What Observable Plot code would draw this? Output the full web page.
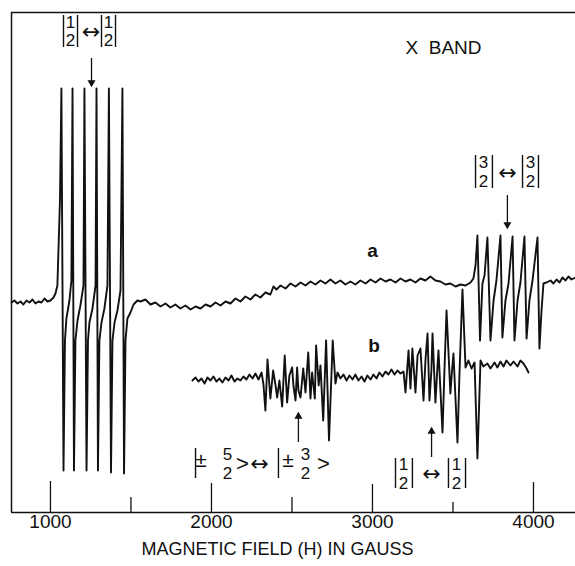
<!DOCTYPE html>
<html><head><meta charset="utf-8">
<script src="https://cdn.jsdelivr.net/npm/d3@7"></script>
<script src="https://cdn.jsdelivr.net/npm/@observablehq/plot@0.6"></script>
<style>body{margin:0;background:#fff}</style>
</head><body><div id="chart"></div>
<script>
// Trace a (field in gauss, signal in arbitrary units)
const aField = [758,776,795,814,832,851,870,888,907,925,944,963,981,1000,1019,1031,1043,
 1059,1068,1081,1090,1099,1118,1130,
 1137,1146,1155,1168,1186,1205,
 1211,1224,1233,1242,1261,1280,
 1286,1295,1304,1317,1335,1354,
 1363,1376,1385,1398,1416,1435,
 1447,1457,1466,1478,1497,1516,1540,
 1559,1590,1621,1652,1683,1714,1745,1776,1807,1838,1870,1901,1932,1963,1994,2025,2056,2087,2118,2149,2180,2211,2242,2273,2304,2335,2366,2385,2404,2429,2460,2491,2522,2553,2584,2615,2646,2677,2708,2739,2770,2801,2832,2863,2894,2925,2957,2988,3019,3050,3081,3112,3143,3174,3205,3236,3267,3298,3329,3360,3391,3422,3453,3484,3516,3547,3578,3609,3627,
 3640,3652,3668,3683,3696,3714,3733,3752,3770,3795,3807,3826,3845,3870,3882,3901,3919,3944,3957,3975,3994,4025,4037,4050,4062,4081,4106,4124,4143,4162,4180,4199,4217,4236,4261];
const aSignal = [210,212,209,211,208,212,210,213,209,211,210,214,211,212,215,219,227,
 312,424,42,172,194,212,232,
 424,42,172,192,207,227,
 424,42,172,190,204,227,
 424,42,172,190,204,227,
 424,40,172,190,202,222,
 424,39,172,194,200,208,212,
 211,213,208,210,206,209,205,208,204,207,203,206,204,208,206,210,207,211,209,214,211,216,213,218,215,220,218,226,223,227,224,229,226,230,227,231,228,232,229,233,229,232,228,231,228,232,229,233,230,234,231,233,230,234,231,233,230,234,232,236,232,231,228,229,226,228,227,230,234,
 247,277,172,229,237,275,172,212,232,277,175,212,229,276,172,212,230,276,174,212,232,275,164,202,229,230,232,229,233,230,235,232,236,233,235];

// Trace b
const bField = [1882,1901,1919,1938,1957,1975,1994,2012,2031,2050,2068,2087,2106,2124,2143,2161,2180,2199,2217,2236,2255,2273,2292,2311,
 2323,2335,2348,2360,2366,2383,2398,2408,2422,2439,2455,2470,2484,2501,2509,2522,2532,2540,2553,2570,2584,2601,2615,2625,2642,2650,2666,2677,2694,2712,2730,2753,2770,
 2783,2801,2820,2839,2857,2876,2894,2913,2932,2950,2969,2988,3006,3025,3043,3062,3081,3099,3118,3137,3155,3174,3193,
 3205,3224,3236,3248,3267,3280,3298,3317,3329,3342,3354,3366,3373,3391,3404,3410,3435,3447,3460,3484,3494,3503,3528,3540,3559,3578,3596,3615,3634,3652,
 3671,3689,3714,3733,3758,3776,3795,3814,3832,3857,3876,3901,3919,3938,3957,3969];
const bSignal = [132,135,131,134,129,135,132,136,131,134,130,135,132,137,131,134,132,136,133,138,134,139,133,140,
 128,102,153,127,114,142,127,115,132,106,157,110,137,145,127,112,145,122,115,144,120,160,114,140,114,167,127,147,92,172,72,172,129,
 140,134,138,132,137,133,138,132,136,131,137,133,138,134,140,136,141,138,143,138,142,139,141,
 120,162,124,164,120,157,164,112,152,179,112,142,179,110,147,162,80,142,202,119,142,159,70,137,223,145,152,144,150,54,
 152,146,149,144,150,145,151,146,152,147,151,146,152,149,144,140];

// Axis ticks
const tickField = [1000,1500,2000,2500,3000,3500,4000];
const tickLength = [31,15,29,15,28,10,30];
const tickLabels = [1000,2000,3000,4000];
const axisTitle = "MAGNETIC FIELD (H) IN GAUSS";
const axisTitleField = 2410;

// Annotation glyphs: text, field, signal
const barField  = [1081,1168,1317,1404, 3640,3745,3932,4031, 1901,2416, 3143,3248,3472,3578];
const barLow    = [465,465,465,465, 324,324,324,324, 34,34, 24,24,24,24];
const barHigh   = [497,497,497,497, 357,357,357,357, 64,64, 54,54,54,54];

const digitText  = ["1","2","1","2", "3","2","3","2", "5","2","3","2", "1","2","1","2"];
const digitField = [1124,1124,1360,1360, 3690,3690,3981,3981, 2099,2099,2584,2584, 3193,3193,3522,3522];
const digitSignal= [490,472,490,472, 350,331,350,331, 58,39,58,39, 48,29,48,29];

const pmText  = ["\u00B1","\u00B1"];
const pmField = [1935,2475];
const pmSignal= [52,52];

const ketText  = [">",">"];
const ketField = [2193,2696];
const ketSignal= [49,49];

const dblField  = [1252,3838,2298,3367];
const dblSignal = [481,340,49,39];

const arrowField = [1255,3838,2540,3367];
const arrowFrom  = [454,317,70,55];
const arrowTo    = [427,285,99,84];

const labelText  = ["a","b"];
const labelField = [3000,3010];
const labelSignal= [262,167];
const bandText = "X  BAND", bandField = 3205, bandSignal = 465;

const traceA = aField.map((x,i)=>({x, y:aSignal[i]}));
const traceB = bField.map((x,i)=>({x, y:bSignal[i]}));
const ticks = tickField.map((x,i)=>({x, len:tickLength[i]}));
const bars = barField.map((x,i)=>({x, y1:barLow[i], y2:barHigh[i]}));
const digits = digitText.map((t,i)=>({t, x:digitField[i], y:digitSignal[i]}));
const pms = pmText.map((t,i)=>({t, x:pmField[i], y:pmSignal[i]}));
const kets = ketText.map((t,i)=>({t, x:ketField[i], y:ketSignal[i]}));
const dbl = dblField.map((x,i)=>({x, y:dblSignal[i]}));
const arrows = arrowField.map((x,i)=>({x, y1:arrowFrom[i], y2:arrowTo[i]}));
const downArrows = arrows.filter(d=>d.y2<d.y1);
const upArrows = arrows.filter(d=>d.y2>d.y1);
const labels = labelText.map((t,i)=>({t, x:labelField[i], y:labelSignal[i]}));

const font = "Liberation Sans, Arial, sans-serif";
const ink = "#111";

const chart = Plot.plot({
  width: 575, height: 566,
  marginLeft: 11, marginRight: 0, marginTop: 12, marginBottom: 54,
  x: {domain: [758, 4261], axis: null},
  y: {domain: [0, 500], axis: null},
  style: {fontFamily: font, background: "#fff"},
  marks: [
    Plot.ruleY([0, 500], {stroke: ink, strokeWidth: 1.5}),
    Plot.ruleX([758], {stroke: ink, strokeWidth: 1.5}),
    Plot.ruleX(ticks, {x: "x", y1: 0, y2: "len", stroke: ink, strokeWidth: 1.3}),
    Plot.text(tickLabels, {x: d=>d, text: d=>String(d), frameAnchor: "bottom", dy: 15, fontSize: 19, fill: ink}),
    Plot.text([axisTitle], {x: ()=>axisTitleField, text: d=>d, frameAnchor: "bottom", dy: 42, fontSize: 18, fill: ink}),
    Plot.line(traceA, {x: "x", y: "y", stroke: ink, strokeWidth: 1.9, strokeLinejoin: "round"}),
    Plot.line(traceB, {x: "x", y: "y", stroke: ink, strokeWidth: 1.9, strokeLinejoin: "round"}),
    Plot.ruleX(bars, {x: "x", y1: "y1", y2: "y2", stroke: ink, strokeWidth: 1.4}),
    Plot.text(digits, {x: "x", y: "y", text: "t", fontSize: 17, fill: ink}),
    Plot.text(pms, {x: "x", y: "y", text: "t", fontSize: 21, fill: ink}),
    Plot.text(kets, {x: "x", y: "y", text: "t", fontSize: 22, fill: ink}),
    Plot.text(dbl, {x: "x", y: "y", text: ()=>"\u2194", fontSize: 22, fontFamily: "DejaVu Sans", fill: ink}),
    Plot.ruleX(arrows, {x: "x", y1: "y1", y2: "y2", stroke: ink, strokeWidth: 1.3}),
    Plot.dot(downArrows, {x: "x", y: "y2", symbol: "triangle", r: 3, fill: ink, stroke: "none", rotate: 180, dy: -3}),
    Plot.dot(upArrows, {x: "x", y: "y2", symbol: "triangle", r: 3, fill: ink, stroke: "none", dy: 3}),
    Plot.text(labels, {x: "x", y: "y", text: "t", fontSize: 19, fontWeight: "bold", fill: ink}),
    Plot.text([bandText], {x: ()=>bandField, y: ()=>bandSignal, text: d=>d, textAnchor: "start", fontSize: 19, fill: ink, style: "white-space:pre"})
  ]
});
document.getElementById("chart").appendChild(chart);
</script>
</body></html>
